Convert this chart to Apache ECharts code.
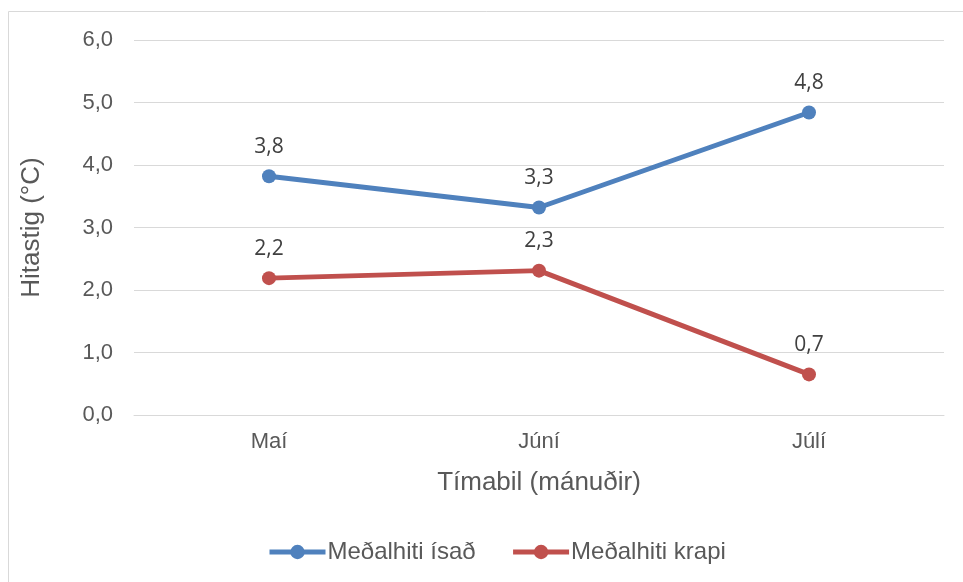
<!DOCTYPE html>
<html>
<head>
<meta charset="utf-8">
<script src="https://cdn.jsdelivr.net/npm/echarts@6/dist/echarts.min.js"></script>
<style>
  * { margin: 0; padding: 0; }
  body { background: #fff; }
  #main { width: 963px; height: 582px; }
</style>
</head>
<body>
<div id="main"></div>
<script>
// data
var months = ['Maí', 'Júní', 'Júlí'];
var isad = [3.82, 3.32, 4.84];
var krapi = [2.19, 2.31, 0.65];
var seriesNames = ['Meðalhiti ísað', 'Meðalhiti krapi'];

var axisFont = 'Liberation Sans, Arial, sans-serif';
var fmt = function (v) { return v.toFixed(1).replace('.', ','); };

function lineSeries(name, data, color) {
  return {
    name: name,
    type: 'line',
    data: data,
    symbol: 'circle',
    symbolSize: 14,
    lineStyle: { width: 5, color: color },
    itemStyle: { color: color },
    label: {
      show: true,
      position: 'top',
      distance: 12,
      fontFamily: 'Open Sans, sans-serif',
      fontSize: 21,
      color: '#404040',
      formatter: function (p) { return fmt(p.value); }
    }
  };
}

var chart = echarts.init(document.getElementById('main'));
chart.setOption({
  animation: false,
  graphic: [{
    type: 'rect',
    shape: { x: 8.5, y: 11.5, width: 980, height: 600 },
    style: { fill: 'none', stroke: '#d9d9d9', lineWidth: 1 }
  }],
  grid: { left: 134, right: 19, top: 40, bottom: 167 },
  xAxis: {
    type: 'category',
    data: months,
    name: 'Tímabil (mánuðir)',
    nameLocation: 'middle',
    nameGap: 55,
    nameTextStyle: { fontFamily: axisFont, fontSize: 26, color: '#595959' },
    axisLine: { lineStyle: { color: '#d9d9d9', width: 1 } },
    axisTick: { show: false },
    axisLabel: { fontFamily: axisFont, fontSize: 22, color: '#595959', margin: 16 }
  },
  yAxis: {
    type: 'value',
    min: 0,
    max: 6,
    interval: 1,
    name: 'Hitastig (°C)',
    nameLocation: 'middle',
    nameGap: 89,
    nameTextStyle: { fontFamily: axisFont, fontSize: 26, color: '#595959' },
    axisLine: { show: false },
    axisTick: { show: false },
    splitLine: { lineStyle: { color: '#d9d9d9', width: 1 } },
    axisLabel: { fontFamily: axisFont, fontSize: 22, color: '#595959', margin: 21, formatter: fmt }
  },
  legend: {
    bottom: 13,
    left: 262,
    itemWidth: 56,
    itemHeight: 18,
    itemGap: 35,
    lineStyle: { width: 5 },
    textStyle: { fontFamily: axisFont, fontSize: 24, color: '#595959', padding: [0, 0, 0, -3] },
    data: seriesNames
  },
  series: [
    lineSeries(seriesNames[0], isad, '#4f81bd'),
    lineSeries(seriesNames[1], krapi, '#c0504d')
  ]
});
</script>
</body>
</html>
